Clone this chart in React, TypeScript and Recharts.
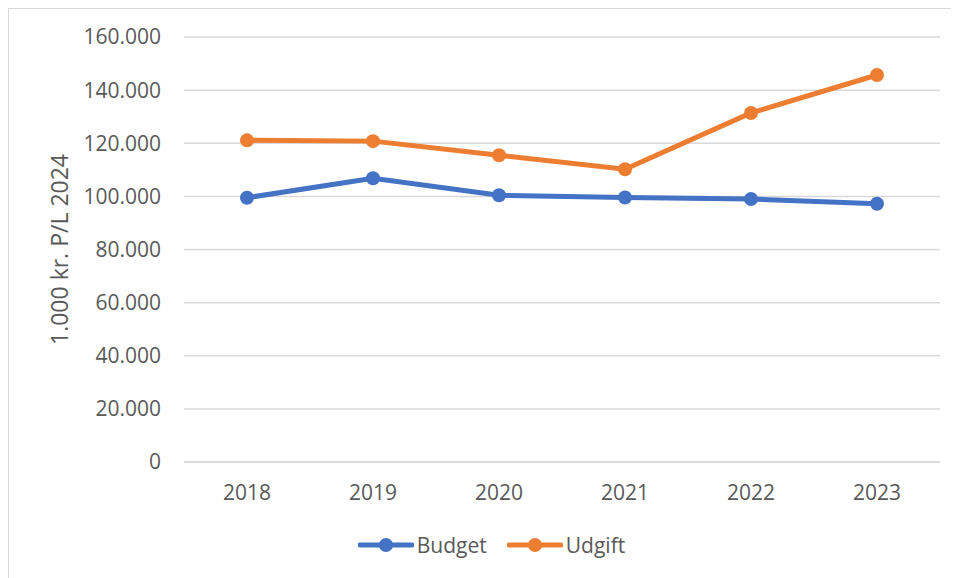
import React from "react";
import { LineChart, Line, XAxis, YAxis, CartesianGrid, Legend } from "recharts";

const years = ["2018", "2019", "2020", "2021", "2022", "2023"];
const budget = [99500, 106800, 100400, 99600, 99000, 97200];
const udgift = [121100, 120800, 115500, 110200, 131400, 145700];
const yTicks = [0, 20000, 40000, 60000, 80000, 100000, 120000, 140000, 160000];

const data = years.map((name, i) => ({ name, Budget: budget[i], Udgift: udgift[i] }));

const FONT = "'Open Sans', sans-serif";
const TEXT = "#595959";
const BLUE = "#4472C4";
const ORANGE = "#ED7D31";

// dk style thousands separator
const fmt = (v: number) => (v === 0 ? "0" : v.toLocaleString("de-DE"));

function LegendContent({ payload }: any) {
  return (
    <div style={{ display: "flex", justifyContent: "center", gap: 20 }}>
      {(payload || []).map((p: any) => (
        <div key={p.value} style={{ display: "flex", alignItems: "center" }}>
          <svg width={56} height={16}>
            <line x1={2} y1={8} x2={54} y2={8} stroke={p.color} strokeWidth={5} strokeLinecap="round" />
            <circle cx={28} cy={8} r={7} fill={p.color} />
          </svg>
          <span style={{ fontFamily: FONT, fontSize: 21, color: TEXT, marginLeft: 3 }}>{p.value}</span>
        </div>
      ))}
    </div>
  );
}

export default function App() {
  return (
    <div
      style={{
        width: 960,
        height: 580,
        border: "1px solid #d9d9d9",
        background: "#fff",
        boxSizing: "border-box",
      }}
    >
      <LineChart width={950} height={570} data={data} margin={{ top: 28, right: 19, left: 0, bottom: 0 }}>
        <CartesianGrid vertical={false} stroke="#d9d9d9" strokeWidth={1.5} />
        <XAxis
          dataKey="name"
          padding={{ left: 63, right: 63 }}
          axisLine={{ stroke: "#d9d9d9", strokeWidth: 1.5 }}
          tickLine={false}
          tickMargin={17}
          height={69}
          tick={{ fill: TEXT, fontSize: 21, fontFamily: FONT }}
        />
        <YAxis
          width={175}
          domain={[0, 160000]}
          ticks={yTicks}
          tickFormatter={fmt}
          axisLine={false}
          tickLine={false}
          tickMargin={17}
          tick={{ fill: TEXT, fontSize: 21, fontFamily: FONT }}
          label={{
            value: "1.000 kr. P/L 2024",
            angle: -90,
            position: "center",
            dx: -37,
            style: { fill: TEXT, fontSize: 23, fontFamily: FONT, textAnchor: "middle" },
          }}
        />
        <Legend
          verticalAlign="bottom"
          content={<LegendContent />}
          wrapperStyle={{ paddingBottom: 20, paddingLeft: 17 }}
        />
        <Line
          dataKey="Budget"
          stroke={BLUE}
          strokeWidth={5}
          dot={{ r: 7, fill: BLUE, stroke: BLUE, strokeWidth: 0 }}
          isAnimationActive={false}
        />
        <Line
          dataKey="Udgift"
          stroke={ORANGE}
          strokeWidth={5}
          dot={{ r: 7, fill: ORANGE, stroke: ORANGE, strokeWidth: 0 }}
          isAnimationActive={false}
        />
      </LineChart>
    </div>
  );
}
